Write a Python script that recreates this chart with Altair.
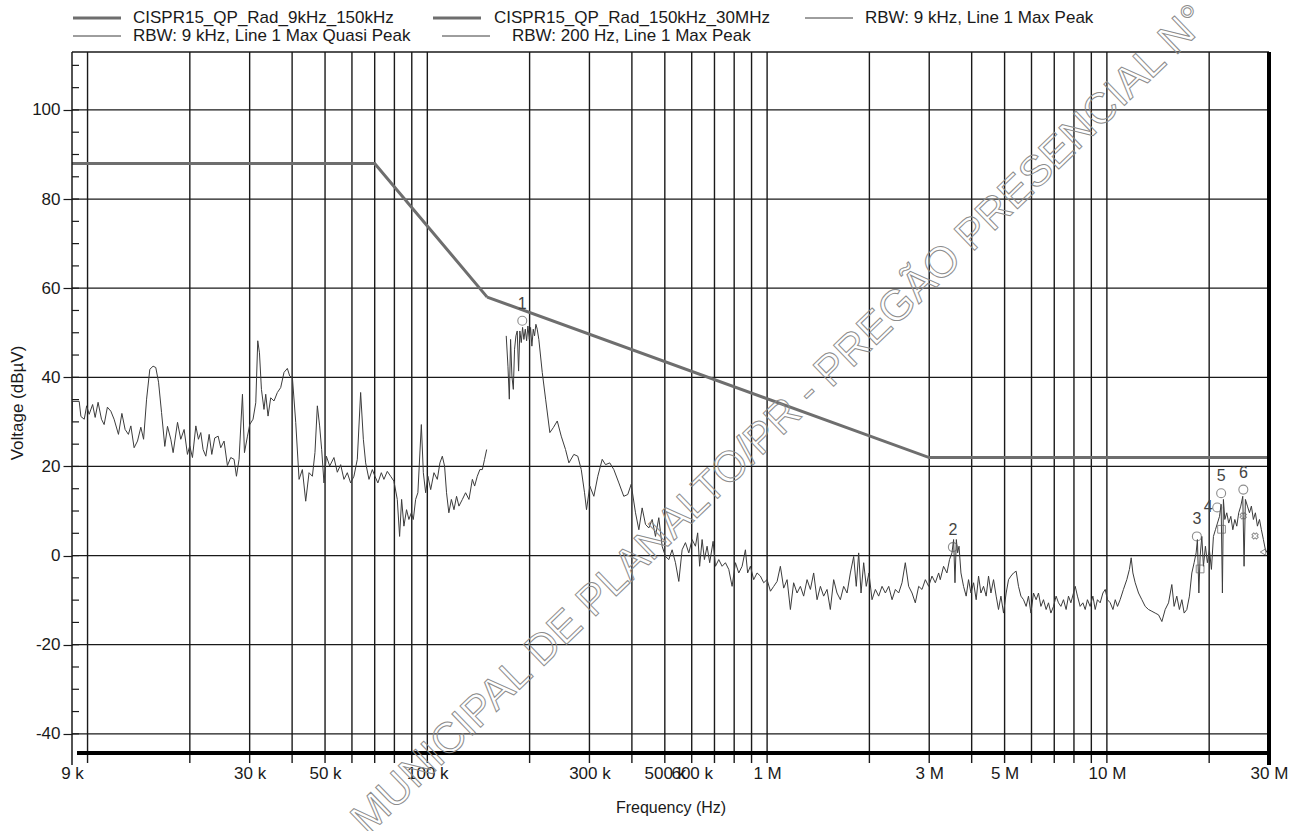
import altair as alt
import pandas as pd

# ---------------- data ----------------
# CISPR 15 radiated QP limit lines (Hz, dBuV)
LIM_A_FREQ = [9e3, 70e3, 150e3]
LIM_A_DB = [88, 88, 58]
LIM_B_FREQ = [150e3, 3e6, 30e6]
LIM_B_DB = [58, 22, 22]

# RBW 200 Hz, max peak sweep, 9 kHz .. 150 kHz (frequency in kHz)
LOW_KHZ = [9.00, 9.02, 9.45, 9.56, 9.78, 9.94, 10.11, 10.35, 10.53, 10.74, 10.99, 11.19, 11.44, 11.71,
           11.97, 12.33, 12.62, 12.90, 13.19, 13.41, 13.71, 14.03, 14.35, 14.62, 14.92, 15.25, 15.59,
           15.88, 16.18, 16.51, 16.88, 17.19, 17.58, 17.86, 18.40, 18.81, 19.24, 19.68, 19.99, 20.36,
           20.83, 21.20, 21.54, 21.88, 22.29, 22.80, 23.21, 23.68, 24.23, 24.66, 25.22, 25.80, 26.39,
           26.99, 27.43, 27.92, 28.57, 28.96, 29.56, 30.02, 30.69, 31.27, 31.69, 32.06, 32.49, 33.06,
           33.45, 33.98, 34.60, 35.38, 36.20, 37.02, 37.86, 38.73, 39.35, 40.08, 40.99, 41.93, 42.88,
           43.86, 44.86, 45.89, 46.70, 47.46, 48.20, 48.87, 49.64, 50.45, 51.60, 53.11, 54.34, 55.58,
           56.84, 58.15, 59.47, 60.81, 62.22, 63.64, 64.82, 65.84, 67.35, 68.89, 70.12, 71.52, 73.22,
           74.52, 76.24, 77.98, 79.74, 81.58, 82.87, 84.01, 85.33, 86.86, 88.26, 89.72, 90.94, 92.38,
           93.80, 96.02, 97.33, 98.87, 100.4, 102.3, 104.6, 107.0, 108.9, 110.7, 112.4, 113.9, 115.7,
           117.7, 119.8, 121.9, 123.9, 126.8, 129.6, 132.6, 135.7, 137.8, 140.3, 142.8, 145.2, 147.4,
           149.5]
LOW_DB = [30.1, 34.6, 34.6, 31.2, 30.6, 33.6, 31.7, 33.9, 31.0, 34.4, 30.6, 29.4, 33.3, 32.4,
          30.6, 27.2, 31.9, 28.3, 27.2, 29.1, 24.2, 25.7, 28.8, 26.1, 35.1, 41.8, 42.5,
          42.2, 38.9, 32.1, 24.5, 29.0, 26.1, 23.1, 29.9, 26.1, 28.3, 22.7, 24.6, 22.0,
          29.1, 26.1, 27.6, 23.8, 22.3, 27.2, 22.7, 26.4, 26.8, 24.2, 25.7, 20.2, 22.0,
          21.6, 17.8, 21.6, 36.2, 23.1, 26.8, 29.4, 30.6, 34.3, 48.2, 45.5, 37.3, 32.8,
          36.2, 31.3, 35.4, 34.7, 36.6, 37.7, 41.1, 42.0, 40.3, 39.9, 29.9, 17.1, 19.3,
          12.2, 18.6, 17.8, 23.1, 33.6, 29.1, 23.8, 16.3, 22.3, 20.1, 22.0, 18.7, 20.4,
          17.1, 18.6, 16.3, 17.8, 21.6, 36.6, 26.1, 20.8, 17.1, 19.3, 17.8, 16.3, 18.6,
          17.1, 18.9, 17.8, 16.7, 12.6, 4.3, 12.6, 6.6, 10.3, 8.1, 9.6, 8.1, 12.6,
          14.1, 29.4, 18.6, 14.1, 17.8, 14.8, 18.6, 17.1, 20.8, 22.3, 20.1, 14.1, 9.6,
          12.6, 10.3, 13.3, 11.1, 12.6, 14.1, 12.6, 17.1, 15.6, 17.8, 19.3, 19.3, 21.6,
          23.8]

# RBW 9 kHz, max peak sweep, 150 kHz .. 30 MHz (frequency in kHz)
HIGH_KHZ = [170.7, 172.7, 174.3, 175.8, 177.4, 179.1, 180.6, 182.3, 183.9, 185.6, 187.2, 189.0,
            190.7, 192.4, 194.2, 196.0, 197.7, 199.6, 201.3, 203.1, 205.0, 206.8, 208.7, 210.6,
            212.9, 217.9, 222.9, 229.4, 234.8, 241.2, 247.8, 255.1, 261.0, 269.9, 277.2, 283.8,
            290.2, 294.1, 300.7, 309.1, 317.5, 327.1, 334.5, 344.3, 353.9, 366.2, 378.6, 388.9,
            398.1, 409.9, 419.3, 428.8, 438.6, 448.6, 458.9, 469.3, 480.0, 491.0, 502.2, 513.7,
            525.4, 537.4, 549.7, 562.2, 575.0, 588.2, 601.6, 615.3, 624.7, 633.0, 643.8, 653.9,
            665.8, 677.7, 693.6, 704.6, 720.7, 737.2, 753.9, 771.2, 788.8, 806.8, 825.3, 844.1,
            863.3, 876.5, 892.9, 913.1, 934.2, 955.6, 977.2, 999.7, 1023, 1046, 1070, 1094,
            1119, 1145, 1171, 1197, 1225, 1253, 1281, 1311, 1341, 1371, 1403, 1435,
            1467, 1501, 1535, 1570, 1606, 1643, 1680, 1719, 1758, 1798, 1830, 1860,
            1890, 1924, 1958, 1994, 2036, 2083, 2130, 2179, 2229, 2280, 2332, 2385,
            2439, 2495, 2551, 2610, 2670, 2730, 2793, 2857, 2922, 2989, 3057, 3127,
            3198, 3233, 3306, 3382, 3443, 3500, 3539, 3572, 3605, 3637, 3671, 3720,
            3786, 3854, 3916, 3981, 4052, 4124, 4191, 4259, 4335, 4413, 4484, 4558,
            4639, 4722, 4798, 4877, 4964, 5053, 5135, 5219, 5312, 5407, 5494, 5585,
            5684, 5786, 5879, 5976, 6082, 6191, 6291, 6395, 6508, 6625, 6732, 6843,
            6965, 7089, 7204, 7322, 7452, 7586, 7708, 7835, 7975, 8068, 8192, 8344,
            8498, 8633, 8765, 8929, 9094, 9238, 9380, 9556, 9733, 9887, 10039, 10230,
            10419, 10584, 10747, 10940, 11187, 11445, 11650, 11790, 11927, 12115, 12393, 12675,
            12964, 13260, 13566, 13874, 14192, 14516, 14847, 15187, 15528, 15772, 16059, 16346,
            16621, 16882, 17189, 17496, 17784, 18063, 18310, 18468, 18652, 18810, 19028, 19237,
            19497, 19760, 20031, 20309, 20587, 20869, 21159, 21455, 21686, 21878, 22027, 22238,
            22535, 22835, 23161, 23476, 23797, 24115, 24435, 24778, 25116, 25338, 25565, 25920,
            26283, 26625, 26989, 27359, 27739, 28126, 28491, 28881, 29276, 29683, 29950]
HIGH_DB = [49.3, 42.5, 35.1, 48.5, 40.3, 37.3, 46.3, 49.3, 50.4, 41.4, 50.4, 47.8,
           51.2, 48.5, 50.8, 48.2, 51.5, 48.5, 51.2, 47.0, 50.8, 49.3, 51.9, 50.8,
           48.5, 41.1, 35.1, 27.6, 28.7, 30.2, 26.8, 23.8, 20.8, 22.7, 22.3, 19.3,
           14.1, 10.3, 15.6, 13.3, 17.8, 21.6, 20.4, 20.8, 19.3, 16.3, 13.3, 13.7,
           16.0, 9.6, 5.8, 10.7, 7.0, 6.2, 8.1, 4.3, 8.5, 2.1, -0.2, -0.9,
           1.3, -1.6, -5.8, 1.3, 2.9, 0.6, 3.6, 2.1, 5.1, -2.4, 3.6, -0.9,
           2.1, -1.6, 3.2, -2.4, -0.9, -2.4, -1.6, -3.1, -6.9, -1.6, -3.9, -2.4,
           1.3, -3.9, -2.4, -5.4, -3.9, -4.6, -6.1, -5.4, -8.0, -6.9, -5.8, -2.4,
           -7.3, -5.4, -12.1, -6.1, -8.4, -6.9, -9.1, -5.4, -7.6, -3.9, -9.9, -6.9,
           -9.1, -7.6, -12.1, -5.4, -8.4, -9.9, -6.9, -8.4, -3.9, -0.2, -6.9, 0.6,
           -8.4, -1.6, -6.9, -3.9, -9.9, -7.6, -9.1, -6.9, -8.4, -6.9, -9.9, -7.6,
           -8.4, -6.1, -1.6, -6.9, -8.4, -10.6, -6.9, -7.6, -5.4, -6.9, -4.6, -6.1,
           -3.9, -5.4, -2.4, -3.9, -0.9, 0.6, 3.6, -6.1, 3.6, 0.6, 2.1, -3.9,
           -6.9, -9.1, -5.4, -8.4, -6.1, -9.9, -4.6, -8.4, -6.9, -9.1, -4.6, -8.4,
           -5.4, -9.1, -12.1, -9.1, -12.9, -8.4, -5.4, -4.6, -3.9, -3.5, -6.9, -9.1,
           -9.9, -11.4, -9.1, -12.9, -8.4, -9.9, -8.4, -11.4, -9.9, -12.1, -10.6, -12.9,
           -11.4, -9.1, -10.6, -11.4, -9.9, -12.1, -9.1, -10.6, -8.4, -6.9, -9.1, -11.4,
           -10.6, -12.1, -9.9, -11.4, -9.1, -12.1, -9.9, -10.6, -8.4, -7.6, -9.9, -10.6,
           -12.1, -9.9, -11.4, -9.9, -7.6, -5.4, -3.1, -0.5, -3.9, -6.1, -8.4, -9.9,
           -11.4, -12.1, -12.5, -12.9, -13.3, -14.8, -12.1, -10.6, -6.5, -11.4, -9.1, -12.1,
           -9.9, -12.9, -12.1, -9.1, -3.9, -1.6, 0.6, 3.6, -8.4, -0.2, 4.3, -2.4,
           2.1, -1.6, 1.3, -3.1, 4.3, 5.8, 7.3, 8.8, 11.5, -8.4, 12.6, 8.1,
           9.6, 7.3, 8.8, 5.8, 8.1, 6.6, 9.6, 11.1, 13.3, -2.4, 12.6, 11.1,
           9.6, 11.1, 8.1, 9.6, 6.6, 8.1, 5.8, 3.6, 1.3, 0.6, 0.2]

# quasi-peak markers
MARK_ID = ["1", "2", "3", "4", "5", "6"]
MARK_KHZ = [190.3, 3521, 18400, 21120, 21690, 25210]
MARK_DB = [52.7, 1.9, 4.3, 10.8, 14.0, 14.8]

# secondary detector markers
SQ_KHZ = [21750, 18810]
SQ_DB = [5.9, -3.0]
CROSS_KHZ = [25200, 27300]
CROSS_DB = [8.9, 4.4]
TRI_KHZ = [28800]
TRI_DB = [0.8]

# axis / grid values
Y_MAJOR = [-40, -20, 0, 20, 40, 60, 80, 100]
Y_MINOR = list(range(-40, 111, 5))
X_GRID = [m * d for d in (1e4, 1e5, 1e6) for m in range(1, 10)] + [1e7, 2e7]
X_LABELS = [9e3, 30e3, 50e3, 100e3, 300e3, 500e3, 600e3, 1e6, 3e6, 5e6, 10e6, 30e6]

LEGEND_TEXT = ["CISPR15_QP_Rad_9kHz_150kHz", "CISPR15_QP_Rad_150kHz_30MHz",
               "RBW: 9 kHz, Line 1 Max Peak", "RBW: 9 kHz, Line 1 Max Quasi Peak",
               "RBW: 200 Hz, Line 1 Max Peak"]
WATERMARK = "MUNICIPAL DE PLANALTO/PR - PREGÃO PRESENCIAL N°"

# ---------------- layout ----------------
W, H = 1197, 701
FONT = "Liberation Sans"
INK = "#1a1a1a"
LIMIT_GRAY = "#6e6e6e"
TRACE_GRAY = "#3c3c3c"

XS = alt.Scale(type="log", domain=[9e3, 30e6], nice=False)
YS = alt.Scale(domain=[-44.3, 113.0], nice=False, zero=False)

X_AX = alt.Axis(values=X_LABELS, ticks=False, domain=False, grid=False,
                labelExpr="datum.value >= 1000000 ? format(datum.value / 1000000, 'd') + ' M' : format(datum.value / 1000, 'd') + ' k'",
                labelFontSize=17, labelFont=FONT, labelColor=INK, labelPadding=12,
                labelOverlap=False, labelFlush=False, labelBound=False,
                title="Frequency (Hz)", titleFont=FONT, titleFontSize=16,
                titleFontWeight="normal", titleColor=INK, titlePadding=18)
Y_AX = alt.Axis(values=Y_MAJOR, ticks=True, tickSize=9, tickWidth=1.2, tickColor=INK,
                domain=False, grid=False, labelFontSize=17, labelFont=FONT,
                labelExpr="datum.value < 0 ? '-' + abs(datum.value) : '' + datum.value",
                labelColor=INK, labelPadding=3,
                title="Voltage (dBµV)", titleFont=FONT, titleFontSize=17,
                titleFontWeight="normal", titleColor=INK, titlePadding=5)


def xq(field):
    return alt.X(f"{field}:Q", scale=XS, axis=X_AX)


def yq(field):
    return alt.Y(f"{field}:Q", scale=YS, axis=Y_AX)


# grid
hgrid = alt.Chart(pd.DataFrame({"db": Y_MAJOR})).mark_rule(color=INK, strokeWidth=1.3).encode(
    y=yq("db"), x=alt.value(0), x2=alt.value(W))
minor = alt.Chart(pd.DataFrame({"db": Y_MINOR})).mark_rule(color=INK, strokeWidth=1.2).encode(
    y=yq("db"), x=alt.value(0), x2=alt.value(7))
vgrid = alt.Chart(pd.DataFrame({"f": X_GRID})).mark_rule(color=INK, strokeWidth=1.4).encode(
    x=xq("f"), y=alt.value(0), y2=alt.value(H + 10))

# frame
frame_left = alt.Chart(pd.DataFrame({"a": [0]})).mark_rule(color=INK, strokeWidth=1.5).encode(
    x=alt.value(0), y=alt.value(0), y2=alt.value(H + 12))
frame_top = alt.Chart(pd.DataFrame({"a": [0]})).mark_rule(color=INK, strokeWidth=1.5).encode(
    y=alt.value(0), x=alt.value(0), x2=alt.value(W))
frame_right = alt.Chart(pd.DataFrame({"a": [0]})).mark_rule(color="#000", strokeWidth=4).encode(
    x=alt.value(W), y=alt.value(0), y2=alt.value(H + 12))
frame_bottom = alt.Chart(pd.DataFrame({"a": [0]})).mark_rule(color="#000", strokeWidth=4).encode(
    y=alt.value(H), x=alt.value(5), x2=alt.value(W))

# limit lines
lim_a = alt.Chart(pd.DataFrame({"f": LIM_A_FREQ, "db": LIM_A_DB})).mark_line(
    color=LIMIT_GRAY, strokeWidth=3).encode(x=xq("f"), y=yq("db"))
lim_b = alt.Chart(pd.DataFrame({"f": LIM_B_FREQ, "db": LIM_B_DB})).mark_line(
    color=LIMIT_GRAY, strokeWidth=3).encode(x=xq("f"), y=yq("db"))

# sweeps
low_df = pd.DataFrame({"f": [k * 1e3 for k in LOW_KHZ], "db": LOW_DB})
high_df = pd.DataFrame({"f": [k * 1e3 for k in HIGH_KHZ], "db": HIGH_DB})
low = alt.Chart(low_df).mark_line(color=TRACE_GRAY, strokeWidth=1, clip=True).encode(
    x=xq("f"), y=yq("db"), order="f:Q")
high = alt.Chart(high_df).mark_line(color=TRACE_GRAY, strokeWidth=1, clip=True).encode(
    x=xq("f"), y=yq("db"), order="f:Q")

# markers
mk_df = pd.DataFrame({"id": MARK_ID, "f": [k * 1e3 for k in MARK_KHZ], "db": MARK_DB})
circles = alt.Chart(mk_df).mark_point(shape="circle", size=80, filled=False,
                                      color="#5e5e5e", strokeWidth=1.1).encode(
    x=xq("f"), y=yq("db"))
labels_up = alt.Chart(mk_df[mk_df["id"] != "4"]).mark_text(
    dy=-17, fontSize=16, font=FONT, color="#444").encode(x=xq("f"), y=yq("db"), text="id:N")
labels_side = alt.Chart(mk_df[mk_df["id"] == "4"]).mark_text(
    dx=-9, dy=0, fontSize=16, font=FONT, color="#444").encode(x=xq("f"), y=yq("db"), text="id:N")
squares = alt.Chart(pd.DataFrame({"f": [k * 1e3 for k in SQ_KHZ], "db": SQ_DB})).mark_point(
    shape="square", size=60, filled=False, color="#5e5e5e", strokeWidth=1).encode(
    x=xq("f"), y=yq("db"))
crosses = alt.Chart(pd.DataFrame({"f": [k * 1e3 for k in CROSS_KHZ], "db": CROSS_DB})).mark_point(
    shape="cross", size=40, filled=False, color="#5e5e5e", strokeWidth=1, angle=45).encode(
    x=xq("f"), y=yq("db"))
tris = alt.Chart(pd.DataFrame({"f": [k * 1e3 for k in TRI_KHZ], "db": TRI_DB})).mark_point(
    shape="triangle-left", size=40, filled=False, color="#5e5e5e", strokeWidth=1).encode(
    x=xq("f"), y=yq("db"))


# legend (drawn above the plot area)
def legend_item(text, x_line, x_text, y, width):
    sample = alt.Chart(pd.DataFrame({"a": [0]})).mark_rule(
        color=LIMIT_GRAY if width > 2 else TRACE_GRAY, strokeWidth=width).encode(
        x=alt.value(x_line), x2=alt.value(x_line + 48), y=alt.value(y))
    label = alt.Chart(pd.DataFrame({"t": [text]})).mark_text(
        align="left", baseline="middle", fontSize=17, font=FONT, color=INK).encode(
        x=alt.value(x_text), y=alt.value(y), text="t:N")
    return [sample, label]


legend = []
legend += legend_item(LEGEND_TEXT[0], 1, 61, -34, 3)
legend += legend_item(LEGEND_TEXT[1], 361, 422, -34, 3)
legend += legend_item(LEGEND_TEXT[2], 733, 793, -34, 1)
legend += legend_item(LEGEND_TEXT[3], 1, 61, -16, 1)
legend += legend_item(LEGEND_TEXT[4], 370, 440, -16, 1)

# diagonal outlined stamp across the plot
stamp = alt.Chart(pd.DataFrame({"t": [WATERMARK]})).mark_text(
    align="center", baseline="middle", angle=316, fontSize=43, font=FONT,
    fillOpacity=0, stroke="#8c8c8c", strokeWidth=1).encode(
    x=alt.value(708), y=alt.value(368), text="t:N")

chart = alt.layer(
    hgrid, minor, vgrid, lim_a, lim_b, low, high,
    circles, labels_up, labels_side, squares, crosses, tris,
    frame_left, frame_top, frame_right, frame_bottom,
    stamp, *legend
).properties(
    width=W, height=H,
    autosize=alt.AutoSizeParams(type="none"),
    padding={"left": 72, "top": 52, "right": 23, "bottom": 78},
    background="white",
).configure_view(stroke=None)

chart.save("out.html", embed_options={"renderer": "svg", "actions": False})
